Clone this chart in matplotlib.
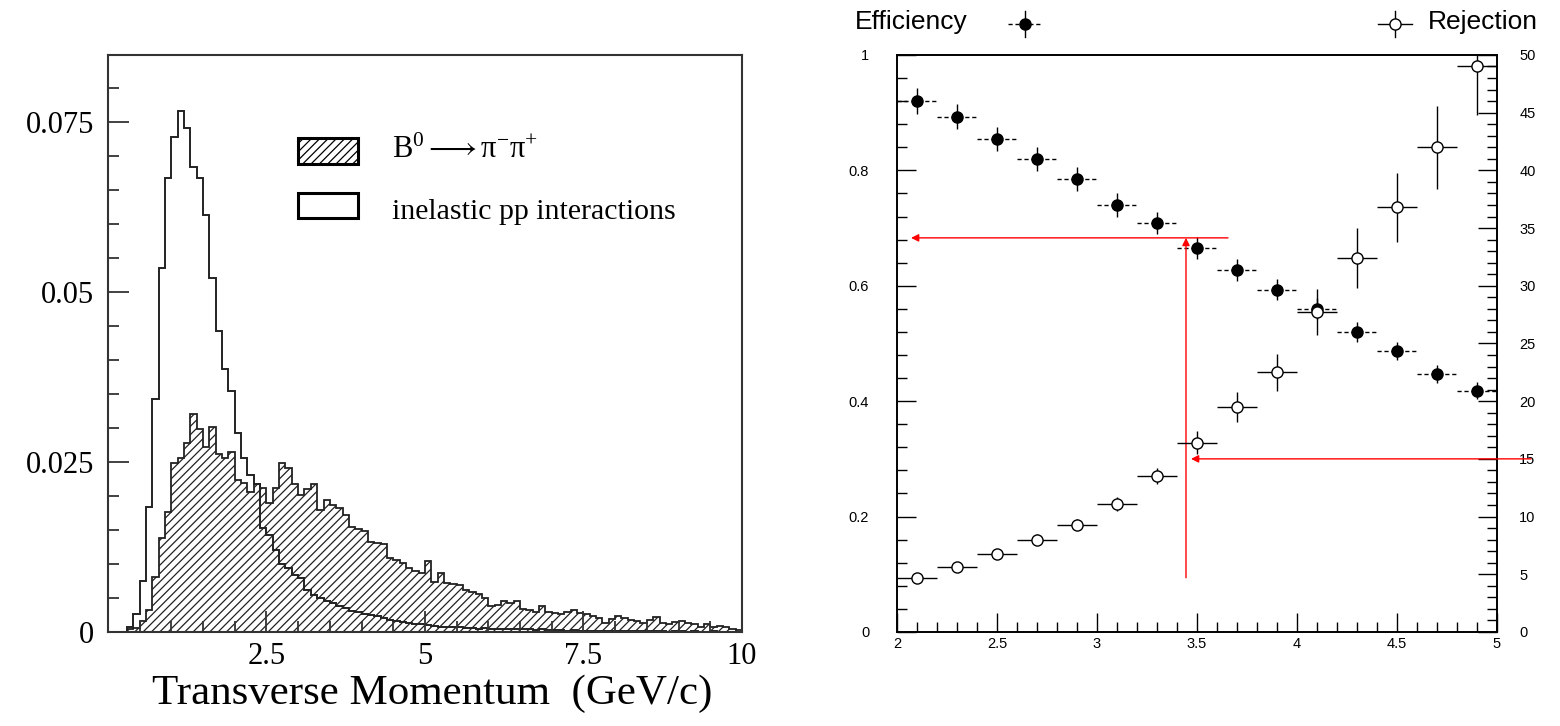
import numpy as np
import matplotlib
matplotlib.use("Agg")
import matplotlib.pyplot as plt
from matplotlib.patches import Rectangle
from matplotlib.lines import Line2D
from matplotlib.ticker import MultipleLocator, FuncFormatter


# left panel: pT spectra, 100 bins of 0.1 GeV/c between 0 and 10
pt_edges = np.arange(101) * 0.1

b0_pipi = [
    0, 0, 0, 0.0004, 0.0006, 0.0016, 0.0033, 0.0081, 0.0138, 0.0176,
    0.0249, 0.0256, 0.0278, 0.0321, 0.0298, 0.0272, 0.0301, 0.0262, 0.0256, 0.0264,
    0.0224, 0.0219, 0.0205, 0.0217, 0.0212, 0.0190, 0.0212, 0.0248, 0.0241, 0.0218,
    0.0201, 0.0210, 0.0217, 0.0180, 0.0194, 0.0187, 0.0182, 0.0172, 0.0155, 0.0152,
    0.0148, 0.0132, 0.0131, 0.0130, 0.0109, 0.0106, 0.0101, 0.0094, 0.0089, 0.0087,
    0.0104, 0.0074, 0.0087, 0.0072, 0.0070, 0.0069, 0.0061, 0.0059, 0.0056, 0.0050,
    0.0038, 0.0040, 0.0046, 0.0043, 0.0045, 0.0034, 0.0032, 0.0030, 0.0038, 0.0030,
    0.0028, 0.0026, 0.0030, 0.0033, 0.0028, 0.0026, 0.0024, 0.0021, 0.0013, 0.0019,
    0.0023, 0.0020, 0.0017, 0.0016, 0.0013, 0.0018, 0.0022, 0.0013, 0.0012, 0.0014,
    0.0016, 0.0013, 0.0011, 0.0008, 0.0011, 0.0008, 0.0009, 0.0008, 0.0004, 0.0003,
]

inelastic = [
    0, 0, 0, 0.0007, 0.0026, 0.0075, 0.0184, 0.0342, 0.0535, 0.0667,
    0.0727, 0.0766, 0.0741, 0.0684, 0.0667, 0.0613, 0.0520, 0.0443, 0.0387, 0.0354,
    0.0292, 0.0255, 0.0230, 0.0218, 0.0153, 0.0143, 0.0120, 0.0100, 0.0094, 0.0084,
    0.0080, 0.0062, 0.0055, 0.0050, 0.0046, 0.0042, 0.0038, 0.0035, 0.0031, 0.0029,
    0.0027, 0.0025, 0.0023, 0.0020, 0.0018, 0.0016, 0.0015, 0.0013, 0.0012, 0.0011,
    0.0010, 0.0009, 0.0008, 0.0008, 0.0007, 0.0007, 0.0006, 0.0006, 0.0005, 0.0006,
    0.0005, 0.0005, 0.0004, 0.0005, 0.0004, 0.0004, 0.0004, 0.0003, 0.0004, 0.0003,
    0.0003, 0.0003, 0.0002, 0.0003, 0.0002, 0.0002, 0.0002, 0.0002, 0.0001, 0.0002,
    0.0001, 0.0001, 0.0002, 0.0001, 0.0001, 0.0001, 0.0001, 0.0001, 0, 0.0001,
    0.0001, 0, 0.0001, 0, 0, 0.0001, 0, 0, 0, 0,
]

# right panel: efficiency / rejection vs pT cut
pt_cut = [2.1, 2.3, 2.5, 2.7, 2.9, 3.1, 3.3, 3.5, 3.7, 3.9, 4.1, 4.3, 4.5, 4.7, 4.9]
pt_halfwidth = 0.1
efficiency = [0.920, 0.893, 0.855, 0.820, 0.785, 0.740, 0.708, 0.665, 0.628, 0.593,
              0.560, 0.520, 0.487, 0.447, 0.418]
efficiency_err = [0.022, 0.022, 0.021, 0.021, 0.020, 0.020, 0.019, 0.019, 0.019, 0.018,
                  0.018, 0.017, 0.016, 0.016, 0.015]
rejection = [4.7, 5.6, 6.8, 8.0, 9.3, 11.1, 13.5, 16.4, 19.5, 22.5, 27.7, 32.4, 36.8, 42.0, 49.0]
rejection_err = [0.3, 0.4, 0.4, 0.5, 0.5, 0.6, 0.7, 1.0, 1.3, 1.6, 2.0, 2.6, 3.0, 3.6, 4.2]

# working point (red arrows)
eff_cut = 0.683
pt_chosen = 3.445
rej_cut = 15

serif = "Liberation Serif"
sans = "Liberation Sans"
plt.rcParams["mathtext.fontset"] = "custom"
plt.rcParams["mathtext.rm"] = "Liberation Serif"
plt.rcParams["mathtext.it"] = "Liberation Serif:italic"
plt.rcParams["hatch.linewidth"] = 0.9

fig = plt.figure(figsize=(15.6, 7.26), dpi=100)

### left: pT spectra ###
ax1 = fig.add_axes([0.0692, 0.1295, 0.4064, 0.7948])
ax1.stairs(b0_pipi, pt_edges, fill=True, facecolor="white", edgecolor="#222222",
           hatch="////", linewidth=1.3)
ax1.stairs(inelastic, pt_edges, color="#222222", linewidth=1.4)
ax1.set_xlim(0, 10)
ax1.set_ylim(0, 0.0848)
ax1.set_xticks([2.5, 5, 7.5, 10], ["2.5", "5", "7.5", "10"])
ax1.set_yticks([0, 0.025, 0.05, 0.075], ["0", "0.025", "0.05", "0.075"])
ax1.xaxis.set_minor_locator(MultipleLocator(0.5))
ax1.yaxis.set_minor_locator(MultipleLocator(0.005))
ax1.tick_params(which="both", direction="in", top=False, right=False, width=1.3, color="#333333")
ax1.tick_params(which="major", length=15, labelsize=22, pad=10)
ax1.tick_params(axis="x", pad=7)
ax1.tick_params(which="minor", length=8)
for lab in ax1.get_xticklabels() + ax1.get_yticklabels():
    lab.set_family(serif)
for sp in ax1.spines.values():
    sp.set_linewidth(1.5)
    sp.set_color("#333333")

# legend drawn by hand
ax1.add_patch(Rectangle((0.300, 0.811), 0.094, 0.045, transform=ax1.transAxes,
                        facecolor="white", edgecolor="black", hatch="////", linewidth=2.2))
ax1.add_patch(Rectangle((0.300, 0.718), 0.094, 0.043, transform=ax1.transAxes,
                        facecolor="white", edgecolor="black", linewidth=2.2))
ax1.text(0.448, 0.836, r"$\mathrm{B}^0 \longrightarrow \mathrm{\pi}^{-}\mathrm{\pi}^{+}$",
         transform=ax1.transAxes, fontsize=22, va="center", ha="left")
ax1.text(0.448, 0.728, "inelastic pp interactions", transform=ax1.transAxes,
         fontsize=21.5, va="center", ha="left", family=serif)

fig.text(432 / 1560, 1 - 694 / 726, "Transverse Momentum  (GeV/c)", fontsize=31,
         family=serif, ha="center", va="center")

### right: efficiency and rejection ###
ax2 = fig.add_axes([0.575, 0.1295, 0.3846, 0.7948])
eb = ax2.errorbar(pt_cut, efficiency, xerr=pt_halfwidth, yerr=efficiency_err, fmt="o",
                  color="black", markersize=8, elinewidth=1, capsize=0)
eb[2][0].set_linestyle((0, (3, 2)))
ax2.set_xlim(2, 5)
ax2.set_ylim(0, 1)

ax3 = ax2.twinx()
ax3.errorbar(pt_cut, rejection, xerr=pt_halfwidth, yerr=rejection_err, fmt="o",
             color="black", markerfacecolor="white", markeredgecolor="black",
             markersize=8, elinewidth=1, capsize=0)
ax3.set_ylim(0, 50)

fmt = FuncFormatter(lambda v, p: f"{v:g}")
ax2.xaxis.set_major_locator(MultipleLocator(0.5))
ax2.xaxis.set_minor_locator(MultipleLocator(0.1))
ax2.yaxis.set_major_locator(MultipleLocator(0.2))
ax2.yaxis.set_minor_locator(MultipleLocator(0.04))
ax3.yaxis.set_major_locator(MultipleLocator(5))
ax3.yaxis.set_minor_locator(MultipleLocator(1))
ax2.xaxis.set_major_formatter(fmt)
ax2.yaxis.set_major_formatter(fmt)
ax3.yaxis.set_major_formatter(fmt)
ax2.tick_params(which="both", direction="in", top=False, right=False, width=1)
ax2.tick_params(which="major", length=14, labelsize=10.5)
ax2.tick_params(which="minor", length=7)
ax2.tick_params(axis="y", pad=20)
ax3.tick_params(which="both", direction="in", width=1)
ax3.tick_params(which="major", length=14, labelsize=10.5, pad=16)
ax3.tick_params(which="minor", length=7)
for lab in ax2.get_xticklabels() + ax2.get_yticklabels() + ax3.get_yticklabels():
    lab.set_family(sans)
for a in (ax2, ax3):
    for sp in a.spines.values():
        sp.set_linewidth(1.2)

arrow = dict(arrowstyle="-|>", color="red", lw=1, mutation_scale=11, shrinkA=0, shrinkB=0)
ax2.annotate("", xy=(2.07, eff_cut), xytext=(3.655, eff_cut), arrowprops=arrow)
ax2.annotate("", xy=(pt_chosen, eff_cut), xytext=(pt_chosen, 0.094), arrowprops=arrow)
ax3.annotate("", xy=(pt_chosen + 0.025, rej_cut), xytext=(5.17, rej_cut), arrowprops=arrow,
             annotation_clip=False)

# header keys
fig.text(855 / 1560, 1 - 22 / 726, "Efficiency", fontsize=19, family=sans, va="center", ha="left")
fig.text(1428 / 1560, 1 - 22 / 726, "Rejection", fontsize=19, family=sans, va="center", ha="left")
ky = 1 - 24 / 726
for kx, filled in ((1025 / 1560, True), (1395 / 1560, False)):
    fig.add_artist(Line2D([kx - 17 / 1560, kx + 17 / 1560], [ky, ky], color="black", lw=1,
                          ls=(0, (3, 2)) if filled else "-"))
    fig.add_artist(Line2D([kx, kx], [ky - 13 / 726, ky + 13 / 726], color="black", lw=1))
    fig.add_artist(Line2D([kx], [ky], marker="o", markersize=8, color="black",
                          markerfacecolor="black" if filled else "white"))

fig.savefig("out.png", dpi=100)
